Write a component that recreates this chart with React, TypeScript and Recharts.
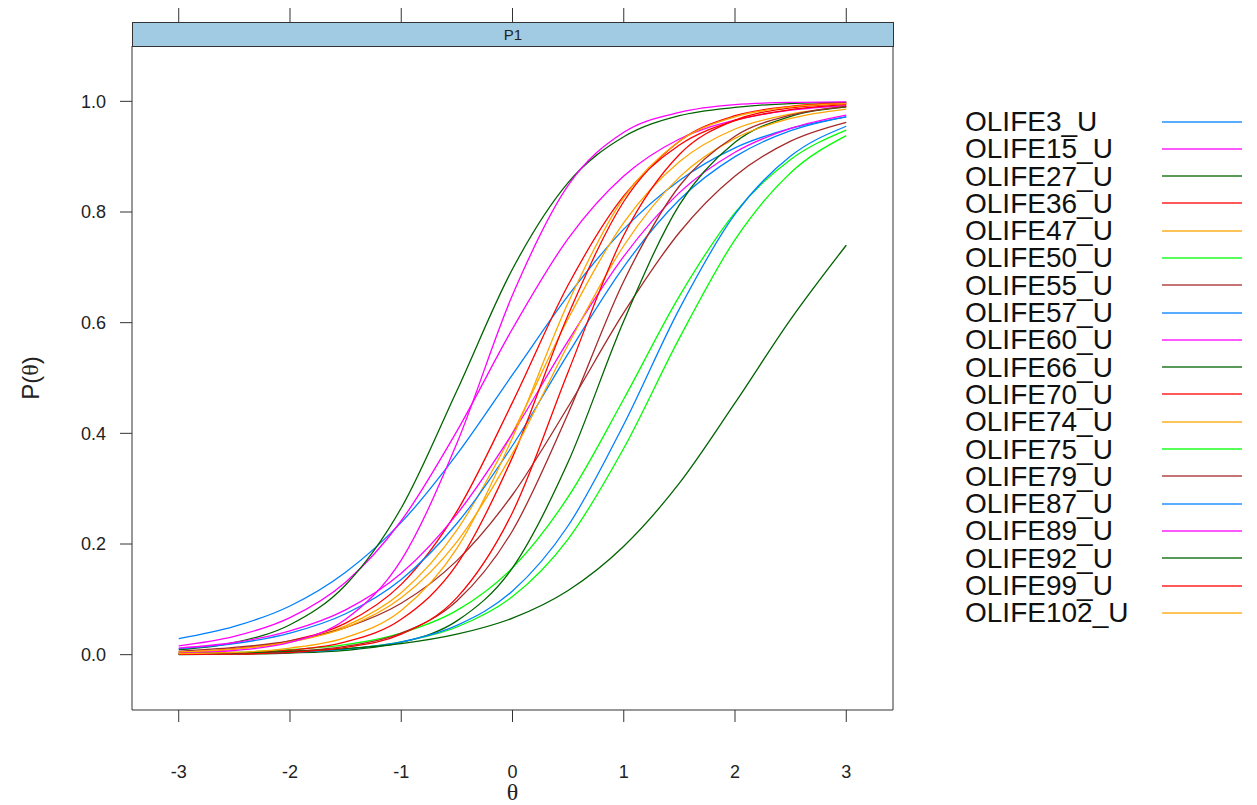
import React from "react";
import { LineChart, Line, XAxis, YAxis } from "recharts";

// ability grid and item trace values
const theta = [-3, -2.5, -2, -1.5, -1, -0.5, 0, 0.5, 1, 1.5, 2, 2.5, 3];

const olife3 = [0.029, 0.051, 0.088, 0.149, 0.239, 0.362, 0.506, 0.649, 0.769, 0.857, 0.916, 0.951, 0.972];
const olife15 = [0.016, 0.033, 0.067, 0.131, 0.242, 0.404, 0.589, 0.752, 0.865, 0.932, 0.966, 0.984, 0.992];
const olife27 = [0.009, 0.022, 0.054, 0.126, 0.265, 0.477, 0.697, 0.853, 0.936, 0.974, 0.989, 0.996, 0.998];
const olife36 = [0.004, 0.011, 0.025, 0.057, 0.127, 0.259, 0.456, 0.668, 0.829, 0.921, 0.965, 0.985, 0.994];
const olife47 = [0.005, 0.01, 0.023, 0.052, 0.112, 0.225, 0.401, 0.607, 0.781, 0.891, 0.95, 0.977, 0.99];
const olife50 = [0.002, 0.004, 0.009, 0.018, 0.039, 0.08, 0.157, 0.285, 0.462, 0.648, 0.799, 0.895, 0.948];
const olife55 = [0.006, 0.013, 0.025, 0.049, 0.093, 0.17, 0.289, 0.448, 0.618, 0.763, 0.865, 0.928, 0.962];
const olife57 = [0.011, 0.02, 0.039, 0.074, 0.136, 0.237, 0.378, 0.544, 0.701, 0.822, 0.9, 0.947, 0.972];
const olife60 = [0.012, 0.022, 0.043, 0.081, 0.147, 0.254, 0.4, 0.567, 0.72, 0.835, 0.908, 0.951, 0.975];
const olife66 = [0.0003, 0.001, 0.003, 0.008, 0.022, 0.061, 0.157, 0.348, 0.603, 0.813, 0.926, 0.973, 0.99];
const olife70 = [0.001, 0.003, 0.008, 0.023, 0.064, 0.163, 0.357, 0.614, 0.819, 0.928, 0.974, 0.991, 0.997];
const olife74 = [0.005, 0.01, 0.023, 0.049, 0.103, 0.204, 0.364, 0.56, 0.739, 0.863, 0.933, 0.969, 0.986];
const olife75 = [0.001, 0.002, 0.005, 0.01, 0.023, 0.05, 0.105, 0.209, 0.373, 0.572, 0.75, 0.871, 0.938];
const olife79 = [0.001, 0.002, 0.006, 0.015, 0.039, 0.097, 0.224, 0.436, 0.675, 0.847, 0.937, 0.975, 0.991];
const olife87 = [0.001, 0.002, 0.004, 0.01, 0.023, 0.053, 0.115, 0.233, 0.416, 0.625, 0.796, 0.901, 0.955];
const olife89 = [0.0025, 0.0075, 0.022, 0.064, 0.171, 0.382, 0.65, 0.848, 0.944, 0.98, 0.994, 0.998, 0.999];
const olife92 = [0.002, 0.003, 0.006, 0.011, 0.02, 0.037, 0.066, 0.116, 0.196, 0.31, 0.455, 0.606, 0.74];
const olife99 = [0.0005, 0.001, 0.004, 0.013, 0.037, 0.103, 0.257, 0.511, 0.758, 0.904, 0.966, 0.988, 0.996];
const olife102 = [0.002, 0.004, 0.012, 0.031, 0.08, 0.192, 0.392, 0.636, 0.826, 0.928, 0.972, 0.99, 0.996];

const itemNames = [
  "OLIFE3_U", "OLIFE15_U", "OLIFE27_U", "OLIFE36_U", "OLIFE47_U", "OLIFE50_U",
  "OLIFE55_U", "OLIFE57_U", "OLIFE60_U", "OLIFE66_U", "OLIFE70_U", "OLIFE74_U",
  "OLIFE75_U", "OLIFE79_U", "OLIFE87_U", "OLIFE89_U", "OLIFE92_U", "OLIFE99_U",
  "OLIFE102_U",
];
const itemValues = [
  olife3, olife15, olife27, olife36, olife47, olife50, olife55, olife57, olife60,
  olife66, olife70, olife74, olife75, olife79, olife87, olife89, olife92, olife99,
  olife102,
];

// lattice superpose.line palette, recycled
const palette = ["#0080ff", "#ff00ff", "#006400", "#ff0000", "#ffa500", "#00ff00", "#a52a2a"];

const xTicks = [-3, -2, -1, 0, 1, 2, 3];
const yTicks = [0, 0.2, 0.4, 0.6, 0.8, 1.0];

const rows = theta.map((t, i) => {
  const r: Record<string, number> = { theta: t };
  itemNames.forEach((n, j) => {
    r[n] = itemValues[j][i];
  });
  return r;
});

const sans = "'Liberation Sans', Arial, sans-serif";
const serif = "'Liberation Serif', 'DejaVu Serif', serif";
const axisColor = "#333";
const noLabel = () => "";

export default function App() {
  return (
    <div style={{ position: "absolute", left: 0, top: 0, width: 1257, height: 805, background: "#fff" }}>
      <LineChart
        width={1257}
        height={805}
        data={rows}
        margin={{ top: 8, right: 350, bottom: 0, left: 0 }}
      >
        <XAxis
          xAxisId="bottom"
          dataKey="theta"
          type="number"
          domain={[-3.42, 3.42]}
          ticks={xTicks}
          height={95}
          tickSize={12}
          tickMargin={43}
          stroke={axisColor}
          tick={{ fill: "#222", fontSize: 18, fontFamily: sans }}
          label={{
            content: ({ viewBox }: any) => (
              <text
                x={viewBox.x + viewBox.width / 2}
                y={viewBox.y + 82}
                textAnchor="middle"
                dominantBaseline="central"
                fontSize={24}
                fontFamily={serif}
                fill="#222"
              >
                θ
              </text>
            ),
          }}
        />
        <XAxis
          xAxisId="top"
          orientation="top"
          dataKey="theta"
          type="number"
          domain={[-3.42, 3.42]}
          ticks={xTicks}
          height={38}
          tickSize={38}
          axisLine={false}
          stroke={axisColor}
          tickFormatter={noLabel}
        />
        <YAxis
          yAxisId="left"
          type="number"
          domain={[-0.1, 1.1]}
          ticks={yTicks}
          width={132}
          tickSize={12}
          tickMargin={14}
          stroke={axisColor}
          tickFormatter={(v: number) => v.toFixed(1)}
          tick={{ fill: "#222", fontSize: 18, fontFamily: sans }}
          label={{
            content: ({ viewBox }: any) => {
              const x = viewBox.x + 30;
              const y = viewBox.y + viewBox.height / 2;
              return (
                <text
                  x={x}
                  y={y}
                  transform={`rotate(-90 ${x} ${y})`}
                  textAnchor="middle"
                  dominantBaseline="central"
                  fontSize={24}
                  fontFamily={sans}
                  fill="#222"
                >
                  P(<tspan fontFamily={serif}>θ</tspan>)
                </text>
              );
            },
          }}
        />
        <YAxis
          yAxisId="right"
          orientation="right"
          type="number"
          domain={[-0.1, 1.1]}
          ticks={yTicks}
          width={14}
          tickSize={12}
          stroke={axisColor}
          tickFormatter={noLabel}
        />
        {itemNames.map((name, i) => (
          <Line
            key={name}
            xAxisId="bottom"
            yAxisId="left"
            type="monotone"
            dataKey={name}
            stroke={palette[i % palette.length]}
            strokeWidth={1.3}
            dot={false}
            activeDot={false}
            isAnimationActive={false}
          />
        ))}
      </LineChart>

      {/* strip with panel name */}
      <div
        style={{
          position: "absolute",
          left: 132,
          top: 22,
          width: 762,
          height: 25,
          boxSizing: "border-box",
          border: `1px solid ${axisColor}`,
          background: "#a0cbe2",
          fontFamily: sans,
          fontSize: 15,
          color: "#222",
          display: "flex",
          alignItems: "center",
          justifyContent: "center",
        }}
      >
        P1
      </div>

      {/* key */}
      <div style={{ position: "absolute", left: 965, top: 108, fontFamily: sans, fontSize: 28, color: "#111" }}>
        {itemNames.map((name, i) => (
          <div key={name} style={{ position: "relative", height: 27.3, lineHeight: "27.3px", width: 280, whiteSpace: "nowrap" }}>
            {name}
            <div
              style={{
                position: "absolute",
                left: 197,
                width: 80,
                top: 12.5,
                height: 2,
                background: palette[i % palette.length],
                opacity: 0.65,
              }}
            />
          </div>
        ))}
      </div>
    </div>
  );
}
